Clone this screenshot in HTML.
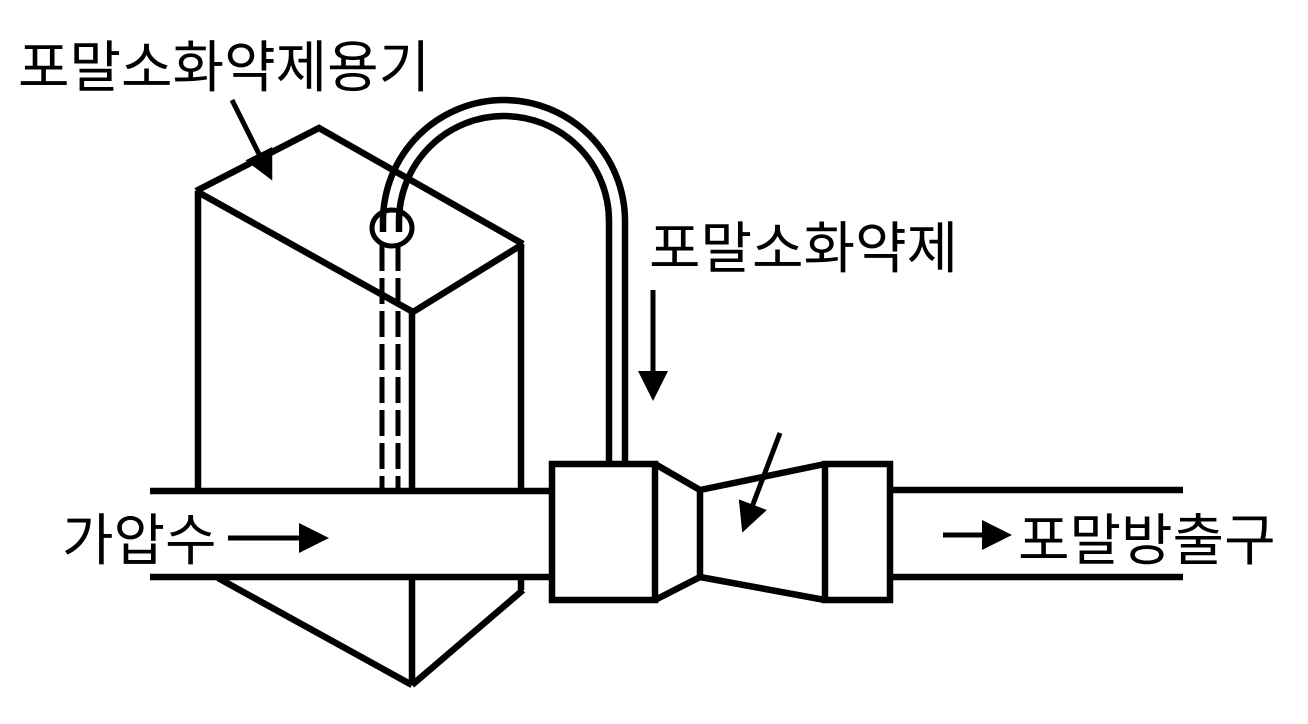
<!DOCTYPE html>
<html><head><meta charset="utf-8"><style>
html,body{margin:0;padding:0;background:#fff;}
svg{display:block}
text{font-family:"Liberation Sans","Noto Sans CJK KR",sans-serif;fill:#000;}
</style></head><body>
<svg width="1308" height="724" viewBox="0 0 1308 724" xmlns="http://www.w3.org/2000/svg">
<defs>
<marker id="ah" markerWidth="6" markerHeight="6" refX="5" refY="3" orient="auto" markerUnits="strokeWidth">
<path d="M0,0 L6,3 L0,6 z" fill="#000"/>
</marker>
</defs>
<g fill="none" stroke="#000" stroke-width="6.5" stroke-linejoin="miter">
<polyline points="196,191 319,128 523,244"/>
<polyline points="196,191 413,312 523,244"/>
<line x1="198" y1="191" x2="198" y2="491"/>
<line x1="412" y1="312" x2="412" y2="491"/>
<line x1="521" y1="244" x2="521" y2="491"/>
<line x1="218" y1="578" x2="412" y2="685"/>
<line x1="523" y1="590" x2="412" y2="685"/>
<line x1="412" y1="578" x2="412" y2="685"/>
<line x1="521" y1="578" x2="521" y2="590"/>
<line x1="150" y1="491" x2="552" y2="491"/>
<line x1="150" y1="577" x2="552" y2="577"/>
<line x1="890" y1="490" x2="1183" y2="490"/>
<line x1="890" y1="577" x2="1183" y2="577"/>
<rect x="552" y="464" width="103" height="136"/>
<polyline points="655,464 700,490 700,577 655,600"/>
<polyline points="700,490 825,464"/>
<polyline points="700,577 825,600"/>
<rect x="825" y="464" width="65" height="136"/>
<path d="M383,232 L383,221 A121,121 0 0 1 625,221 L625,464"/>
<path d="M399,232 L399,221 A105,105 0 0 1 609,221 L609,464"/>
<ellipse cx="392" cy="228" rx="20" ry="18" stroke-width="5"/>
<line x1="382" y1="245" x2="382" y2="490" stroke-dasharray="26,7" stroke-width="5"/>
<line x1="398" y1="245" x2="398" y2="490" stroke-dasharray="26,7" stroke-width="5"/>
</g>
<g stroke="#000" stroke-width="5" fill="none">
<line x1="232" y1="100" x2="270" y2="176" marker-end="url(#ah)"/>
<line x1="653" y1="290" x2="653" y2="396" marker-end="url(#ah)"/>
<line x1="780" y1="433" x2="744" y2="528" marker-end="url(#ah)"/>
<line x1="228" y1="538" x2="324" y2="538" marker-end="url(#ah)"/>
<line x1="943" y1="535" x2="1007" y2="535" marker-end="url(#ah)"/>
</g>
<text x="18" y="87" font-size="56">포말소화약제용기</text>
<text x="649" y="268" font-size="56">포말소화약제</text>
<text x="62" y="560" font-size="56">가압수</text>
<text x="1018" y="560" font-size="56">포말방출구</text>
</svg>
</body></html>
